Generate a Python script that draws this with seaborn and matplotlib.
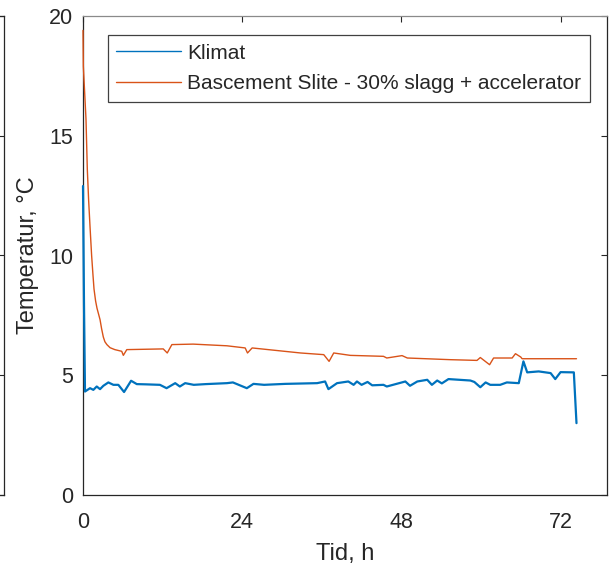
import numpy as np
import pandas as pd
import matplotlib
matplotlib.use("Agg")
import matplotlib.pyplot as plt
import seaborn as sns

# Klimat (air temperature), hours / °C
klimat_h = [0.0, 0.15, 0.3, 1.06, 1.56, 2.07, 2.57, 3.07, 3.82, 4.58, 5.33, 6.19,
            7.25, 8.11, 9.5, 11.6, 12.6, 13.9, 14.6, 15.4, 16.7, 18.5, 21.7, 22.6,
            24.7, 25.7, 27.3, 30.5, 35.3, 36.5, 37.0, 38.3, 40.0, 40.8, 41.3, 42.0,
            42.9, 43.6, 45.3, 45.8, 48.6, 49.3, 50.4, 51.9, 52.6, 53.4, 54.1, 55.1,
            58.4, 59.0, 59.9, 60.7, 61.4, 62.9, 63.9, 65.7, 66.4, 66.97, 68.7, 70.5,
            71.2, 72.0, 74.0, 74.4]
klimat_T = [12.9, 8.0, 4.32, 4.46, 4.39, 4.53, 4.42, 4.56, 4.70, 4.60, 4.60, 4.30,
            4.77, 4.63, 4.62, 4.60, 4.46, 4.67, 4.53, 4.67, 4.60, 4.63, 4.67, 4.70,
            4.46, 4.64, 4.60, 4.64, 4.67, 4.74, 4.42, 4.67, 4.74, 4.60, 4.74, 4.60,
            4.72, 4.58, 4.60, 4.53, 4.74, 4.56, 4.74, 4.81, 4.60, 4.78, 4.66, 4.84,
            4.78, 4.72, 4.50, 4.70, 4.60, 4.60, 4.70, 4.67, 5.58, 5.12, 5.16, 5.09,
            4.84, 5.13, 5.12, 3.0]

# Bascement Slite - 30% slagg + accelerator, hours / °C
slite_h = [0.0, 0.05, 0.25, 0.45, 0.65, 0.85, 1.06, 1.3, 1.5, 1.66, 1.9, 2.11, 2.35,
           2.57, 2.8, 3.06, 3.3, 3.6, 4.08, 4.8, 5.84, 6.08, 6.6,
           12.1, 12.7, 13.4, 16.6, 21.7, 24.45, 24.8, 25.5, 32.8, 36.3, 37.1, 37.8,
           40.3, 45.3, 45.8, 48.1, 48.9, 55.4, 59.4, 59.9, 61.3, 61.9, 64.7, 65.2,
           66.0, 66.2, 74.4]
slite_T = [19.4, 17.9, 16.8, 15.7, 13.6, 12.3, 11.2, 10.0, 9.2, 8.6, 8.1, 7.8, 7.55,
           7.32, 6.95, 6.6, 6.4, 6.28, 6.15, 6.07, 6.0, 5.83, 6.07,
           6.10, 5.93, 6.28, 6.30, 6.23, 6.14, 5.93, 6.14, 5.93, 5.86, 5.58, 5.93,
           5.83, 5.79, 5.72, 5.82, 5.72, 5.65, 5.62, 5.74, 5.44, 5.72, 5.72, 5.90,
           5.76, 5.69, 5.69]

series_names = ["Klimat", "Bascement Slite - 30% slagg + accelerator"]
series_colors = ["#0072BD", "#D95319"]

xticks = [0, 24, 48, 72]
yticks = [0, 5, 10, 15, 20]

df = pd.concat([
    pd.DataFrame({"Tid": klimat_h, "Temp": klimat_T, "Serie": series_names[0]}),
    pd.DataFrame({"Tid": slite_h, "Temp": slite_T, "Serie": series_names[1]}),
], ignore_index=True)

sns.set_theme(style="white")
plt.rcParams["font.family"] = ["Liberation Sans", "DejaVu Sans"]

W, H = 609, 571
fig = plt.figure(figsize=(W / 100, H / 100), dpi=100)

ax_l, ax_r, ax_t, ax_b = 83, 607, 16, 495
pos = [ax_l / W, (H - ax_b) / H, (ax_r - ax_l) / W, (ax_b - ax_t) / H]

# neighbouring panel, only its right edge is inside the figure
ax0 = fig.add_axes([-0.3, pos[1], 0.3 + 3.5 / W, pos[3]])
ax0.set_ylim(0, 20)
ax0.set_xlim(0, 1)
ax0.set_xticks([])
ax0.set_yticks(yticks)
ax0.yaxis.tick_right()
ax0.tick_params(axis="y", direction="in", length=4, width=0.8, color="#262626",
                labelright=False, labelleft=False)
for s in ax0.spines.values():
    s.set_color("#262626")
    s.set_linewidth(0.9)

ax = fig.add_axes(pos)
sns.lineplot(data=df, x="Tid", y="Temp", hue="Serie", palette=series_colors,
             estimator=None, sort=False, ax=ax, linewidth=1.1)
for line, lw in zip(ax.get_lines(), [1.6, 1.0]):
    line.set_linewidth(lw)
    line.set_solid_joinstyle("round")
    line.set_zorder(3)
    line.set_clip_on(False)

ax.set_xlim(0, 79)
ax.set_ylim(0, 20)
ax.set_xticks(xticks)
ax.set_yticks(yticks)
ax.tick_params(direction="in", length=4, width=0.8, color="#262626",
               labelcolor="#262626", labelsize=15.5, top=True, right=True)
ax.tick_params(axis="x", pad=12)
ax.tick_params(axis="y", pad=7)
for name, s in ax.spines.items():
    s.set_linewidth(0.9)
    s.set_color("#262626")
ax.spines["top"].set_color("#8a8a8a")

ax.set_xlabel("Tid, h", fontsize=17, color="#262626")
ax.set_ylabel("Temperatur, °C", fontsize=17, color="#262626")
ax.xaxis.set_label_coords(0.5, -0.100)
ax.yaxis.set_label_coords(-0.084, 0.5)

handles, labels = ax.get_legend_handles_labels()
leg = ax.legend(handles, labels, loc="upper right",
                bbox_to_anchor=((590 - ax_l) / (ax_r - ax_l), (ax_b - 35) / (ax_b - ax_t)),
                borderaxespad=0, fontsize=15, frameon=True, fancybox=False,
                framealpha=1, edgecolor="#404040", handlelength=3.1,
                handletextpad=0.3, borderpad=0.42, labelspacing=0.55)
leg.get_frame().set_linewidth(0.9)
leg.set_zorder(5)
for lh in leg.get_lines():
    lh.set_linewidth(1.0)

fig.savefig("out.png", dpi=100)
